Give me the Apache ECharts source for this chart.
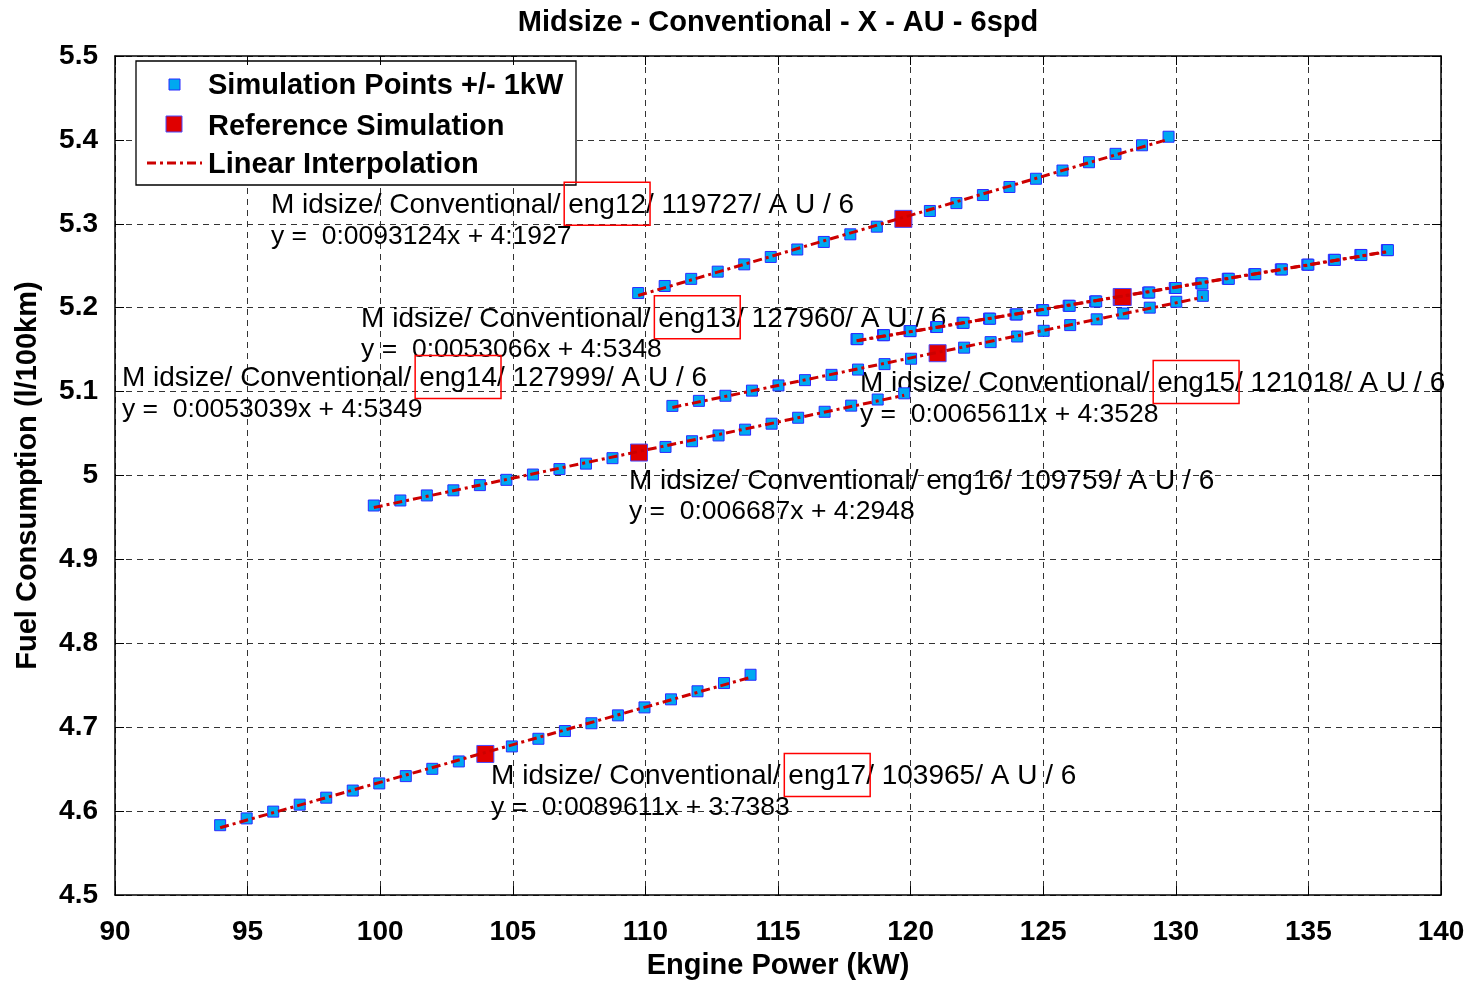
<!DOCTYPE html>
<html>
<head>
<meta charset="utf-8">
<title>Midsize - Conventional - X - AU - 6spd</title>
<script src="https://cdn.jsdelivr.net/npm/echarts@6/dist/echarts.min.js"></script>
<style>
  html, body { margin: 0; padding: 0; background: #fff; overflow: hidden; }
  #chart { width: 1475px; height: 985px; }
</style>
</head>
<body>
<div id="chart"></div>
<script>
// ---- data -------------------------------------------------------------
const engines = ['eng12', 'eng13', 'eng14', 'eng15', 'eng16', 'eng17'];
const refPower = [119.727, 127.960, 127.999, 121.018, 109.759, 103.965];
const refFuel = [5.3059, 5.2128, 5.2128, 5.1458, 5.0274, 4.6682];
const fitSlope = [0.0093124, 0.0053066, 0.0053039, 0.0065611, 0.006687, 0.0089611];
const fitIntercept = [4.1927, 4.5348, 4.5349, 4.3528, 4.2948, 3.7383];

const power12 = [109.727, 110.727, 111.727, 112.727, 113.727, 114.727, 115.727, 116.727, 117.727, 118.727, 119.727, 120.727, 121.727, 122.727, 123.727, 124.727, 125.727, 126.727, 127.727, 128.727, 129.727];
const fuel12 = [5.2175, 5.2259, 5.2344, 5.2430, 5.2517, 5.2605, 5.2694, 5.2784, 5.2875, 5.2966, 5.3059, 5.3153, 5.3247, 5.3343, 5.3439, 5.3537, 5.3635, 5.3734, 5.3834, 5.3936, 5.4038];

const power13 = [117.96, 118.96, 119.96, 120.96, 121.96, 122.96, 123.96, 124.96, 125.96, 126.96, 127.96, 128.96, 129.96, 130.96, 131.96, 132.96, 133.96, 134.96, 135.96, 136.96, 137.96];
const fuel13 = [5.1626, 5.1673, 5.1722, 5.1770, 5.1820, 5.1870, 5.1920, 5.1971, 5.2023, 5.2075, 5.2128, 5.2181, 5.2235, 5.2290, 5.2345, 5.2400, 5.2457, 5.2513, 5.2571, 5.2629, 5.2687];

const power14 = [117.999, 118.999, 119.999, 120.999, 121.999, 122.999, 123.999, 124.999, 125.999, 126.999, 127.999, 128.999, 129.999, 130.999, 131.999, 132.999, 133.999, 134.999, 135.999, 136.999, 137.999];
const fuel14 = [5.1626, 5.1673, 5.1721, 5.1770, 5.1820, 5.1869, 5.1920, 5.1971, 5.2023, 5.2075, 5.2128, 5.2181, 5.2235, 5.2289, 5.2344, 5.2400, 5.2456, 5.2513, 5.2570, 5.2628, 5.2686];

const power15 = [111.018, 112.018, 113.018, 114.018, 115.018, 116.018, 117.018, 118.018, 119.018, 120.018, 121.018, 122.018, 123.018, 124.018, 125.018, 126.018, 127.018, 128.018, 129.018, 130.018, 131.018];
const fuel15 = [5.0830, 5.0890, 5.0951, 5.1012, 5.1074, 5.1137, 5.1200, 5.1263, 5.1328, 5.1392, 5.1458, 5.1524, 5.1590, 5.1657, 5.1725, 5.1793, 5.1862, 5.1931, 5.2001, 5.2071, 5.2142];

const power16 = [99.759, 100.759, 101.759, 102.759, 103.759, 104.759, 105.759, 106.759, 107.759, 108.759, 109.759, 110.759, 111.759, 112.759, 113.759, 114.759, 115.759, 116.759, 117.759, 118.759, 119.759];
const fuel16 = [4.9643, 4.9703, 4.9763, 4.9824, 4.9886, 4.9949, 5.0012, 5.0077, 5.0142, 5.0207, 5.0274, 5.0341, 5.0409, 5.0478, 5.0547, 5.0618, 5.0689, 5.0760, 5.0833, 5.0906, 5.0980];

const power17 = [93.965, 94.965, 95.965, 96.965, 97.965, 98.965, 99.965, 100.965, 101.965, 102.965, 103.965, 104.965, 105.965, 106.965, 107.965, 108.965, 109.965, 110.965, 111.965, 112.965, 113.965];
const fuel17 = [4.5833, 4.5914, 4.5995, 4.6078, 4.6161, 4.6246, 4.6331, 4.6418, 4.6505, 4.6593, 4.6682, 4.6772, 4.6863, 4.6955, 4.7048, 4.7142, 4.7237, 4.7333, 4.7429, 4.7527, 4.7626];

const powerSets = [power12, power13, power14, power15, power16, power17];
const fuelSets = [fuel12, fuel13, fuel14, fuel15, fuel16, fuel17];

const xTicks = [90, 95, 100, 105, 110, 115, 120, 125, 130, 135, 140];
const yTicks = [4.5, 4.6, 4.7, 4.8, 4.9, 5, 5.1, 5.2, 5.3, 5.4, 5.5];

const legendNames = ['Simulation Points +/- 1kW', 'Reference Simulation', 'Linear Interpolation'];

// ---- layout & style ---------------------------------------------------
const FONT = '"Liberation Sans", Arial, Helvetica, sans-serif';
const NOTE_TITLE_SIZE = 28;
const NOTE_EQ_SIZE = 26.5;
const NOTE_LINE_GAP = 31;
// anchor (left edge, first-line middle) of each engine's note, in axis units
const noteAnchor = [
  [95.88, 5.3221],
  [99.28, 5.1868],
  [90.26, 5.1157],
  [118.09, 5.1097],
  [109.38, 4.9935],
  [104.18, 4.6412]
];
const noteBoxed = [true, true, true, true, false, true];

const POINT_FILL = '#00a8f0';
const POINT_EDGE = '#2a2aff';
const REF_FILL = '#e00000';
const REF_EDGE = '#4a4aff';
const FIT_COLOR = '#cc0000';
const FIT_DASH = [9, 4, 3, 4];

const colonNum = v => String(v).replace('.', ':');
const notePrefix = () => 'M idsize/ Conventional/ ';
const noteTitle = i => notePrefix(i) + engines[i] + '/ ' + refPower[i].toFixed(3).replace('.', '') + '/ A U / 6';
const noteEq = i => 'y =  ' + colonNum(fitSlope[i]) + 'x + ' + colonNum(fitIntercept[i]);

// ---- series -----------------------------------------------------------
const series = [];
engines.forEach((eng, i) => {
  const xs = powerSets[i];
  const ys = fuelSets[i];
  series.push({
    type: 'scatter',
    name: legendNames[0],
    symbol: 'rect',
    symbolSize: 11,
    z: 3,
    itemStyle: { color: POINT_FILL, borderColor: POINT_EDGE, borderWidth: 1, opacity: 1 },
    data: xs.map((x, k) => [x, ys[k]])
  });
  series.push({
    type: 'scatter',
    name: legendNames[1],
    symbol: 'rect',
    symbolSize: 17,
    z: 4,
    itemStyle: { color: REF_FILL, borderColor: REF_EDGE, borderWidth: 1, opacity: 1 },
    data: [[refPower[i], refFuel[i]]]
  });
  const xa = xs[0], xb = xs[xs.length - 1];
  series.push({
    type: 'line',
    name: legendNames[2],
    showSymbol: false,
    symbol: 'none',
    z: 5,
    lineStyle: { color: FIT_COLOR, width: 3, type: FIT_DASH },
    data: [[xa, fitIntercept[i] + fitSlope[i] * xa], [xb, fitIntercept[i] + fitSlope[i] * xb]]
  });
});

const tickFont = { fontFamily: FONT, fontWeight: 'bold', fontSize: 28, color: '#000' };
const axisLineStyle = { show: true, onZero: false, lineStyle: { color: '#000', width: 1.5 } };
const gridLine = { show: true, lineStyle: { color: '#333', width: 1, type: [6, 5] } };
const innerTick = { show: true, inside: true, length: 9, lineStyle: { color: '#000', width: 1 } };

const option = {
  animation: false,
  backgroundColor: '#fff',
  title: {
    text: 'Midsize - Conventional - X - AU - 6spd',
    left: 778,
    top: 8,
    padding: 0,
    textAlign: 'center',
    textStyle: { fontFamily: FONT, fontWeight: 'bold', fontSize: 29, color: '#000' }
  },
  grid: { left: 115, top: 56, width: 1326, height: 845, containLabel: false },
  xAxis: [
    {
      type: 'value', position: 'bottom',
      min: xTicks[0], max: xTicks[xTicks.length - 1], interval: xTicks[1] - xTicks[0],
      name: 'Engine Power (kW)', nameLocation: 'middle', nameGap: 53,
      nameTextStyle: { fontFamily: FONT, fontWeight: 'bold', fontSize: 29, color: '#000' },
      axisLine: axisLineStyle,
      axisTick: innerTick,
      axisLabel: Object.assign({ margin: 23 }, tickFont),
      splitLine: gridLine
    },
    {
      type: 'value', position: 'top',
      min: xTicks[0], max: xTicks[xTicks.length - 1], interval: xTicks[1] - xTicks[0],
      axisLine: axisLineStyle,
      axisTick: innerTick,
      axisLabel: { show: false },
      splitLine: { show: false }
    }
  ],
  yAxis: [
    {
      type: 'value', position: 'left',
      min: yTicks[0], max: yTicks[yTicks.length - 1], interval: 0.1,
      name: 'Fuel Consumption (l/100km)', nameLocation: 'middle', nameGap: 73,
      nameTextStyle: { fontFamily: FONT, fontWeight: 'bold', fontSize: 29, color: '#000' },
      axisLine: axisLineStyle,
      axisTick: innerTick,
      axisLabel: Object.assign({ margin: 17 }, tickFont),
      splitLine: gridLine
    },
    {
      type: 'value', position: 'right',
      min: yTicks[0], max: yTicks[yTicks.length - 1], interval: 0.1,
      axisLine: axisLineStyle,
      axisTick: innerTick,
      axisLabel: { show: false },
      splitLine: { show: false }
    }
  ],
  series: series
};

const chart = echarts.init(document.getElementById('chart'), null, { renderer: 'canvas' });
chart.setOption(option);

// ---- notes and legend box --------------------------------------------
const measureCtx = document.createElement('canvas').getContext('2d');
function textWidth(str, font) {
  measureCtx.font = font;
  return measureCtx.measureText(str).width;
}

const titleFont = NOTE_TITLE_SIZE + 'px ' + FONT;
const eqFont = NOTE_EQ_SIZE + 'px ' + FONT;
const graphics = [];
engines.forEach((eng, i) => {
  const p = chart.convertToPixel({ gridIndex: 0 }, noteAnchor[i]);
  graphics.push({
    type: 'text', x: p[0], y: p[1], z: 1, silent: true,
    style: { text: noteTitle(i), font: titleFont, fill: '#000', verticalAlign: 'middle', align: 'left' }
  });
  graphics.push({
    type: 'text', x: p[0], y: p[1] + NOTE_LINE_GAP, z: 1, silent: true,
    style: { text: noteEq(i), font: eqFont, fill: '#000', verticalAlign: 'middle', align: 'left' }
  });
  if (noteBoxed[i]) {
    const x0 = p[0] + textWidth(notePrefix(i), titleFont) - 4;
    const w = textWidth(eng, titleFont) + 8;
    graphics.push({
      type: 'rect', z: 1, silent: true,
      shape: { x: x0, y: p[1] - 23, width: w, height: 43 },
      style: { fill: 'none', stroke: '#ff0000', lineWidth: 1.5 }
    });
  }
});

// legend panel
const legendFont = 'bold 29px ' + FONT;
graphics.push({
  type: 'group', z: 100, silent: true,
  children: [
    { type: 'rect', shape: { x: 136, y: 61, width: 440, height: 124 },
      style: { fill: '#fff', stroke: '#000', lineWidth: 1.3 } },
    { type: 'rect', shape: { x: 169, y: 79, width: 11, height: 11 },
      style: { fill: POINT_FILL, stroke: POINT_EDGE, lineWidth: 1 } },
    { type: 'rect', shape: { x: 166, y: 116, width: 16, height: 16 },
      style: { fill: REF_FILL, stroke: REF_EDGE, lineWidth: 1 } },
    { type: 'line', shape: { x1: 147, y1: 163, x2: 202, y2: 163 },
      style: { stroke: FIT_COLOR, lineWidth: 3, lineDash: FIT_DASH } },
    { type: 'text', x: 208, y: 86, style: { text: legendNames[0], font: legendFont, fill: '#000', verticalAlign: 'middle' } },
    { type: 'text', x: 208, y: 127, style: { text: legendNames[1], font: legendFont, fill: '#000', verticalAlign: 'middle' } },
    { type: 'text', x: 208, y: 165, style: { text: legendNames[2], font: legendFont, fill: '#000', verticalAlign: 'middle' } }
  ]
});

chart.setOption({ graphic: graphics });
</script>
</body>
</html>
